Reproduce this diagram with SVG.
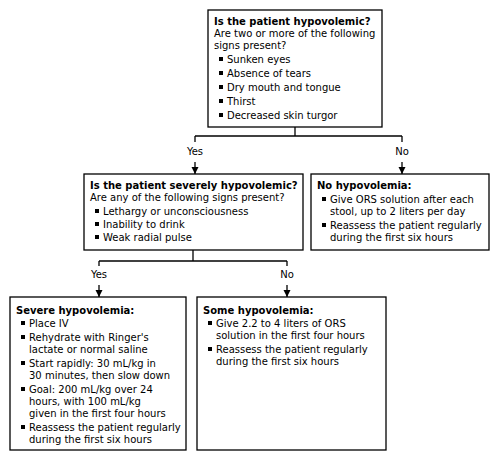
<svg xmlns="http://www.w3.org/2000/svg" width="500" height="461" viewBox="0 0 500 461">
<style>
text{font-family:"DejaVu Sans",Verdana,sans-serif;font-size:10px;fill:#000}
.h{font-weight:bold}
.lbl{text-anchor:middle}
rect.box{fill:#fff;stroke:#000;stroke-width:1.3}
.c line{stroke:#000;stroke-width:1.3}
.b{fill:#000}
</style>
<defs>
<marker id="ah" markerUnits="userSpaceOnUse" markerWidth="8" markerHeight="8" refX="7" refY="3.5" orient="auto">
<path d="M0,0 L7,3.5 L0,7 z" fill="#000"/>
</marker>
</defs>
<g class="c" id="connectors">
<line x1="295" y1="127" x2="295" y2="136"/>
<line x1="195" y1="136" x2="402" y2="136"/>
<line x1="195" y1="136" x2="195" y2="142"/>
<line x1="402" y1="136" x2="402" y2="142"/>
<line x1="195" y1="162" x2="195" y2="174" marker-end="url(#ah)"/>
<line x1="402" y1="162" x2="402" y2="174" marker-end="url(#ah)"/>
<text class="lbl" x="195" y="155">Yes</text>
<text class="lbl" x="402" y="155">No</text>
<line x1="193" y1="250" x2="193" y2="261"/>
<line x1="99" y1="261" x2="287" y2="261"/>
<line x1="99" y1="261" x2="99" y2="266"/>
<line x1="287" y1="261" x2="287" y2="266"/>
<line x1="99" y1="285" x2="99" y2="297" marker-end="url(#ah)"/>
<line x1="287" y1="285" x2="287" y2="297" marker-end="url(#ah)"/>
<text class="lbl" x="99" y="278">Yes</text>
<text class="lbl" x="287" y="278">No</text>
</g>
<g id="q1">
<rect class="box" x="208" y="10" width="174" height="117"/>
<text class="h" x="214" y="25">Is the patient hypovolemic?</text>
<text x="214" y="37">Are two or more of the following</text>
<text x="214" y="49">signs present?</text>
<rect class="b" x="219" y="57" width="4" height="4"/><text x="227" y="63">Sunken eyes</text>
<rect class="b" x="219" y="71" width="4" height="4"/><text x="227" y="77">Absence of tears</text>
<rect class="b" x="219" y="85" width="4" height="4"/><text x="227" y="91">Dry mouth and tongue</text>
<rect class="b" x="219" y="99" width="4" height="4"/><text x="227" y="105">Thirst</text>
<rect class="b" x="219" y="113" width="4" height="4"/><text x="227" y="119">Decreased skin turgor</text>
</g>
<g id="q2">
<rect class="box" x="84" y="174" width="219" height="76"/>
<text class="h" x="90" y="189">Is the patient severely hypovolemic?</text>
<text x="90" y="201">Are any of the following signs present?</text>
<rect class="b" x="95" y="209" width="4" height="4"/><text x="103" y="215">Lethargy or unconsciousness</text>
<rect class="b" x="95" y="222" width="4" height="4"/><text x="103" y="228">Inability to drink</text>
<rect class="b" x="95" y="235" width="4" height="4"/><text x="103" y="241">Weak radial pulse</text>
</g>
<g id="none">
<rect class="box" x="311" y="174" width="178" height="76"/>
<text class="h" x="317" y="189">No hypovolemia:</text>
<rect class="b" x="322" y="197" width="4" height="4"/><text x="330" y="203">Give ORS solution after each</text>
<text x="330" y="215">stool, up to 2 liters per day</text>
<rect class="b" x="322" y="223" width="4" height="4"/><text x="330" y="229">Reassess the patient regularly</text>
<text x="330" y="241">during the first six hours</text>
</g>
<g id="severe">
<rect class="box" x="10" y="297" width="176" height="153"/>
<text class="h" x="16" y="314">Severe hypovolemia:</text>
<rect class="b" x="21" y="321" width="4" height="4"/><text x="29" y="327">Place IV</text>
<rect class="b" x="21" y="335" width="4" height="4"/><text x="29" y="341">Rehydrate with Ringer's</text>
<text x="29" y="353">lactate or normal saline</text>
<rect class="b" x="21" y="361" width="4" height="4"/><text x="29" y="367">Start rapidly: 30 mL/kg in</text>
<text x="29" y="379">30 minutes, then slow down</text>
<rect class="b" x="21" y="387" width="4" height="4"/><text x="29" y="393">Goal: 200 mL/kg over 24</text>
<text x="29" y="405">hours, with 100 mL/kg</text>
<text x="29" y="417">given in the first four hours</text>
<rect class="b" x="21" y="425" width="4" height="4"/><text x="29" y="431">Reassess the patient regularly</text>
<text x="29" y="443">during the first six hours</text>
</g>
<g id="some">
<rect class="box" x="197" y="297" width="189" height="153"/>
<text class="h" x="203" y="314">Some hypovolemia:</text>
<rect class="b" x="208" y="321" width="4" height="4"/><text x="216" y="327">Give 2.2 to 4 liters of ORS</text>
<text x="216" y="339">solution in the first four hours</text>
<rect class="b" x="208" y="347" width="4" height="4"/><text x="216" y="353">Reassess the patient regularly</text>
<text x="216" y="365">during the first six hours</text>
</g>
</svg>
